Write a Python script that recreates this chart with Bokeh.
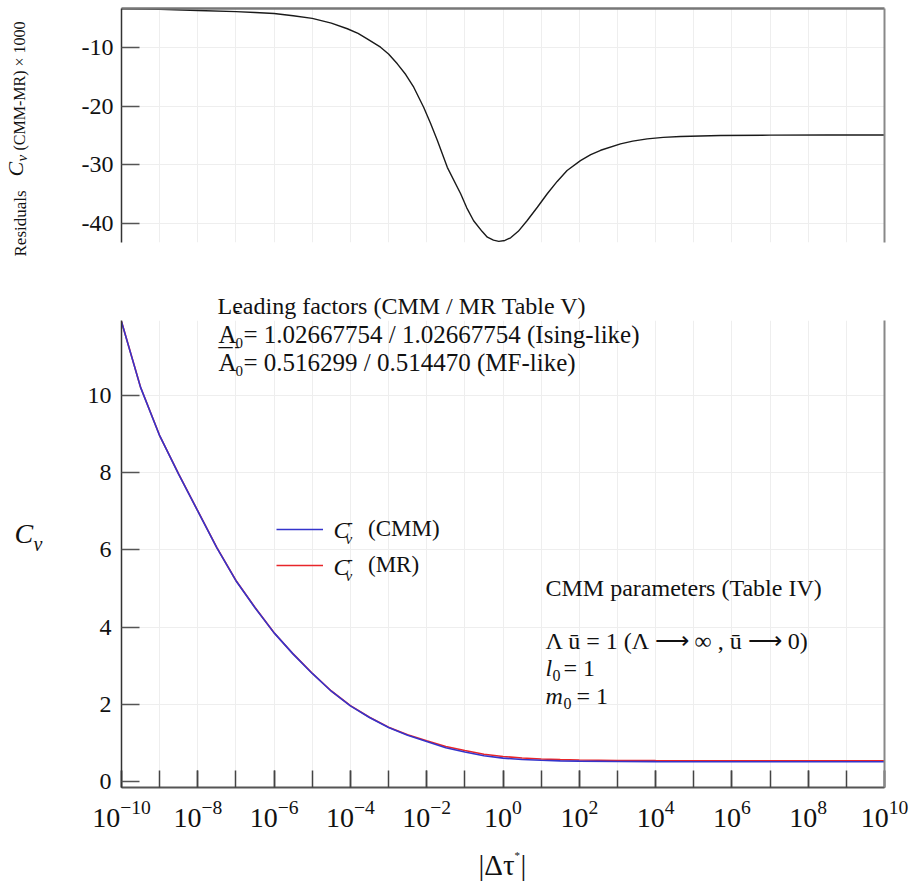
import numpy as np
from bokeh.plotting import figure
from bokeh.models import (Range1d, LinearAxis, FixedTicker, Label,
                          ColumnDataSource, Legend, LegendItem)
from bokeh.layouts import column, row
from bokeh.embed import file_html
from bokeh.resources import INLINE

# ---------------- data ----------------
resid_log_tau = [-10, -9, -8, -7, -6.5, -6, -5.5, -5, -4.5, -4.08, -3.8, -3.56, -3.21,
                 -3.0, -2.77, -2.55, -2.34, -2.08, -1.9, -1.72, -1.46, -1.11, -0.95, -0.77,
                 -0.55, -0.41, -0.25, -0.11, 0.05, 0.20, 0.40, 0.63, 0.9, 1.16, 1.42, 1.68,
                 2.03, 2.3, 2.56, 3.08, 3.4, 3.78, 4.2, 4.65, 5.70, 7.0, 8.5, 10]
resid_values = [-3.4, -3.5, -3.7, -3.9, -4.05, -4.2, -4.6, -5.05, -5.85, -6.81, -7.6,
                -8.52, -9.95, -11.1, -12.78, -14.6, -16.76, -20.17, -22.9, -25.84,
                -30.4, -34.9, -37.3, -39.5, -41.3, -42.3, -42.8, -43.0, -42.85, -42.4,
                -41.3, -39.5, -37.2, -34.9, -32.8, -30.95, -29.25, -28.25, -27.5, -26.4,
                -25.95, -25.55, -25.3, -25.16, -24.99, -24.92, -24.9, -24.9]

cv_log_tau = [-10, -9.5, -9, -8.5, -8, -7.5, -7, -6.5, -6, -5.5, -5, -4.5, -4, -3.5,
              -3, -2.5, -2, -1.5, -1, -0.5, 0, 0.5, 1, 1.5, 2, 3, 4, 6, 8, 10]
cv_cmm = [11.90, 10.20, 8.95, 7.95, 7.00, 6.05, 5.20, 4.50, 3.85, 3.30, 2.80, 2.34,
          1.96, 1.66, 1.40, 1.20, 1.04, 0.88, 0.77, 0.67, 0.61, 0.575, 0.553, 0.540,
          0.532, 0.522, 0.519, 0.517, 0.5165, 0.5163]
cv_mr = [11.903, 10.204, 8.954, 7.954, 7.004, 6.054, 5.204, 4.504, 3.854, 3.305,
         2.805, 2.346, 1.967, 1.668, 1.411, 1.215, 1.061, 0.910, 0.806, 0.711, 0.653,
         0.615, 0.589, 0.572, 0.561, 0.548, 0.544, 0.542, 0.5414, 0.5412]

x_tick_decades = list(range(-10, 11))
x_label_decades = list(range(-10, 11, 2))
top_y_ticks = [-10, -20, -30, -40]
top_y_tick_labels = ["-10", "-20", "-30", "-40"]
bottom_y_ticks = [0, 2, 4, 6, 8, 10]

FONT = "Liberation Serif"
GRID = "#eeeeee"
INK = "#111111"
SHIFT = 0.3  # em, compensates the renderer's baseline placement

# ---------------- geometry helpers (page pixel -> data) ----------------
def BX(X):
    return 10 ** (-10 + (X - 121) / 38.15)

def BY(Y):
    return 11.93 - (Y - 320) / 38.66

CONV = {}

def lab(p, X, Y, text, size=24, style="normal", rotated=False):
    fx, fy = CONV[id(p)]
    if rotated:
        X = X - SHIFT * size
    else:
        Y = Y - SHIFT * size
    p.add_layout(Label(x=fx(X), y=fy(Y), text=text, text_font=FONT,
                       text_font_size=f"{size}px", text_font_style=style,
                       angle=(np.pi / 2 if rotated else 0.0), text_align="left",
                       text_baseline="alphabetic", text_color=INK))

def strip(w, h, xr, yr, **kw):
    s = figure(width=w, height=h, x_range=xr, y_range=yr, output_backend="svg",
               toolbar_location=None, **kw)
    s.axis.visible = False
    s.grid.visible = False
    s.outline_line_color = None
    return s

all_decades = [10.0 ** d for d in x_tick_decades]
label_decades = [10.0 ** d for d in x_label_decades]

def edge_axis(color, width):
    return LinearAxis(ticker=FixedTicker(ticks=[]), major_label_text_font_size="0px",
                      axis_line_color=color, axis_line_width=width,
                      major_tick_line_color=None, minor_tick_line_color=None)

# ---------------- top panel: residuals ----------------
top = figure(width=859, height=270, x_axis_type="log",
             x_range=Range1d(1e-10, 1e10), y_range=Range1d(-43.2, -3.36),
             output_backend="svg", toolbar_location=None,
             min_border_left=71, min_border_right=25, min_border_top=8, min_border_bottom=28)
top.outline_line_color = None
top.xaxis.visible = False
top.xgrid.ticker = FixedTicker(ticks=all_decades)
top.xgrid.grid_line_color = GRID
top.ygrid.ticker = FixedTicker(ticks=top_y_ticks)
top.ygrid.grid_line_color = GRID

ya = top.yaxis[0]
ya.ticker = FixedTicker(ticks=top_y_ticks)
ya.major_label_overrides = dict(zip(top_y_ticks, top_y_tick_labels))
ya.major_tick_in = 18
ya.major_tick_out = 0
ya.minor_tick_line_color = None
ya.axis_line_color = "#333333"
ya.axis_line_width = 1.5
ya.major_tick_line_color = "#555555"
ya.major_tick_line_width = 1.5
ya.major_label_text_font = FONT
ya.major_label_text_font_size = "24px"
ya.major_label_text_color = INK
ya.major_label_standoff = 8

top.add_layout(edge_axis("#777777", 2.5), "above")
top.add_layout(edge_axis("#888888", 2), "right")

rsrc = ColumnDataSource(dict(tau=[10.0 ** v for v in resid_log_tau], r=resid_values))
top.line("tau", "r", source=rsrc, line_color="#1a1a1a", line_width=1.4)

# ---------------- gap strip with the first text line ----------------
# frame of this strip is aligned with the panels' frames: page x 121..884, y 270..320
mid = strip(859, 50, Range1d(121, 884), Range1d(0, 50),
            min_border_left=71, min_border_right=25, min_border_top=0, min_border_bottom=0)
CONV[id(mid)] = (lambda X: X, lambda Y: 320 - Y)
lab(mid, 217, 313, "Leading factors (CMM / MR Table V)", size=24)
lab(mid, 234, 315, "-", size=16)

# ---------------- bottom panel: Cv ----------------
bot = figure(width=859, height=517, x_axis_type="log",
             x_range=Range1d(1e-10, 1e10), y_range=Range1d(-0.15, 11.93),
             output_backend="svg", toolbar_location=None,
             min_border_left=71, min_border_right=25, min_border_top=0, min_border_bottom=50)
CONV[id(bot)] = (BX, BY)
bot.outline_line_color = None
bot.xgrid.ticker = FixedTicker(ticks=all_decades)
bot.xgrid.grid_line_color = GRID
bot.ygrid.ticker = FixedTicker(ticks=bottom_y_ticks[1:])
bot.ygrid.grid_line_color = GRID

xa = bot.xaxis[0]
xa.ticker = FixedTicker(ticks=label_decades, minor_ticks=all_decades)
xa.major_tick_in = 17
xa.major_tick_out = 0
xa.minor_tick_in = 17
xa.minor_tick_out = 0
xa.axis_line_color = "#555555"
xa.axis_line_width = 2
xa.major_tick_line_color = "#444444"
xa.minor_tick_line_color = "#444444"
xa.major_tick_line_width = 1.5
xa.minor_tick_line_width = 1.5
xa.major_label_text_font = FONT
xa.major_label_text_font_size = "28px"
xa.major_label_text_color = INK
xa.major_label_standoff = 13

yb = bot.yaxis[0]
yb.ticker = FixedTicker(ticks=bottom_y_ticks)
yb.major_tick_in = 18
yb.major_tick_out = 0
yb.minor_tick_line_color = None
yb.axis_line_color = "#333333"
yb.axis_line_width = 1.5
yb.major_tick_line_color = "#555555"
yb.major_tick_line_width = 1.5
yb.major_label_text_font = FONT
yb.major_label_text_font_size = "24px"
yb.major_label_text_color = INK
yb.major_label_standoff = 10

bot.add_layout(edge_axis("#888888", 2), "right")

csrc = ColumnDataSource(dict(tau=[10.0 ** v for v in cv_log_tau], cmm=cv_cmm, mr=cv_mr))
r_mr = bot.line("tau", "mr", source=csrc, line_color="#e8262a", line_width=1.6)
r_cmm = bot.line("tau", "cmm", source=csrc, line_color="#3434cc", line_width=1.6)

legend = Legend(items=[LegendItem(label="(CMM)", renderers=[r_cmm]),
                       LegendItem(label="(MR)", renderers=[r_mr])],
                location=(155, 209), glyph_width=47, glyph_height=20, label_height=20,
                label_standoff=45, spacing=10, padding=0, margin=0,
                border_line_color=None, background_fill_alpha=0,
                label_text_font=FONT, label_text_font_size="23px", label_text_color=INK)
bot.add_layout(legend)
for dy in (0, 37):
    lab(bot, 333, 537 + dy, "C", size=24, style="italic")
    lab(bot, 347, 527 + dy, "-", size=16)
    lab(bot, 345, 543 + dy, "v", size=15, style="italic")

# Leading factors block (lines 2, 3)
lab(bot, 218, 342, "A", size=25)
lab(bot, 235, 347, "0", size=15)
lab(bot, 243, 342, "= 1.02667754 / 1.02667754 (Ising-like)", size=25)
lab(bot, 218, 366, "¯", size=28)
lab(bot, 218, 370, "A", size=25)
lab(bot, 234, 351, "-", size=16)
lab(bot, 235, 375, "0", size=15)
lab(bot, 243, 370, "= 0.516299 / 0.514470 (MF-like)", size=25)

# CMM parameter block
lab(bot, 545, 595, "CMM parameters (Table IV)", size=24)
lab(bot, 545, 648, "Λ ū = 1 (Λ ⟶ ∞ ,  ū ⟶  0)", size=24)
lab(bot, 545, 675, "l", size=24, style="italic")
lab(bot, 552, 680, "0", size=16)
lab(bot, 563, 675, "= 1", size=24)
lab(bot, 545, 703, "m", size=24, style="italic")
lab(bot, 563, 708, "0", size=16)
lab(bot, 576, 703, "= 1", size=24)

# ---------------- left strip: y-axis titles ----------------
left = strip(50, 881, Range1d(0, 50), Range1d(0, 881), min_border=0)
CONV[id(left)] = (lambda X: X, lambda Y: 881 - Y)
lab(left, 25, 256, "Residuals", size=17, rotated=True)
lab(left, 22, 176, "C", size=22, style="italic", rotated=True)
lab(left, 26, 161, "v", size=15, style="italic", rotated=True)
lab(left, 24, 150, "(CMM-MR) × 1000", size=16, rotated=True)
lab(left, 14, 541, "C", size=28, style="italic")
lab(left, 33, 549, "v", size=20, style="italic")

# ---------------- bottom strip: x-axis title ----------------
bstrip = strip(859, 44, Range1d(121, 884), Range1d(837, 881),
               min_border_left=71, min_border_right=25, min_border_top=0, min_border_bottom=0)
CONV[id(bstrip)] = (lambda X: X, lambda Y: 837 + 881 - Y)
lab(bstrip, 478, 873, "|Δτ", size=29)
lab(bstrip, 514, 858, "*", size=11)
lab(bstrip, 520, 873, "|", size=29)

layout = row(left, column(top, mid, bot, bstrip, spacing=0), spacing=0)
open("out.html", "w").write(file_html(layout, INLINE))
